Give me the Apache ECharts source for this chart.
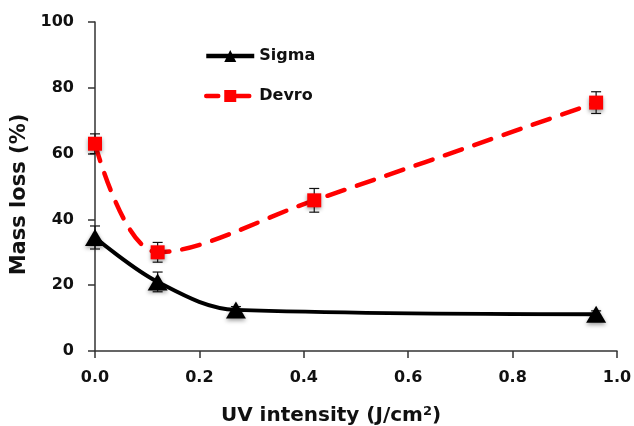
<!DOCTYPE html>
<html><head><meta charset="utf-8">
<script src="https://cdn.jsdelivr.net/npm/echarts@6/dist/echarts.min.js"></script>
<style>html,body{margin:0;padding:0;background:#fff}#c{width:634px;height:426px}</style>
</head><body><div id="c"></div>
<script>
const sigmaX = [0, 0.12, 0.27, 0.96];
const sigmaY = [34.5, 21, 12.5, 11.2];
const sigmaErr = [3.5, 3, 1, 1];
const devroX = [0, 0.12, 0.42, 0.96];
const devroY = [63, 30, 45.8, 75.5];
const devroErr = [3, 3, 3.6, 3.3];
const xTicks = ['0.0','0.2','0.4','0.6','0.8','1.0'];
const yTicks = ['0','20','40','60','80','100'];

const FONT = 'DejaVu Sans';
const chart = echarts.init(document.getElementById('c'));
function pts(xs, ys){ return xs.map((x,i)=>[x, ys[i]]); }
function errData(xs, ys, es){ return xs.map((x,i)=>[x, ys[i]-es[i], ys[i]+es[i]]); }
function errSeries(data){
  return {
    type: 'custom', silent: true, z: 1,
    data: data,
    encode: {x: 0, y: [1,2]},
    renderItem: function(params, api){
      const x = api.value(0);
      const lo = api.coord([x, api.value(1)]);
      const hi = api.coord([x, api.value(2)]);
      const w = 5;
      const st = {stroke: '#111', lineWidth: 1.2, fill: null};
      return {type: 'group', children: [
        {type:'line', shape:{x1:lo[0],y1:lo[1],x2:hi[0],y2:hi[1]}, style: st},
        {type:'line', shape:{x1:lo[0]-w,y1:lo[1],x2:lo[0]+w,y2:lo[1]}, style: st},
        {type:'line', shape:{x1:hi[0]-w,y1:hi[1],x2:hi[0]+w,y2:hi[1]}, style: st}
      ]};
    }
  };
}
chart.setOption({
  animation: false,
  backgroundColor: '#fff',
  grid: {left: 95, right: 17, top: 22, bottom: 75, outerBoundsMode: 'none', containLabel: false},
  legend: {
    data: ['Sigma', 'Devro'], orient: 'vertical', left: 199, top: 43,
    itemWidth: 48, itemHeight: 15, itemGap: 24,
    lineStyle: {width: 4.5, dashOffset: 6},
    textStyle: {fontFamily: FONT, fontWeight: 'bold', fontSize: 16, color: '#111'}
  },
  xAxis: {
    type: 'value', min: 0, max: 1, interval: 0.2,
    name: 'UV intensity (J/cm{sup|2})', nameLocation: 'middle', nameGap: 54,
    nameTextStyle: {fontFamily: FONT, fontWeight: 'bold', fontSize: 20, color: '#111', padding: [0, 50, 0, 0],
      rich: {sup: {fontFamily: FONT, fontWeight: 'bold', fontSize: 13, color: '#111', verticalAlign: 'top', padding: [0,0,9,0]}}},
    axisLine: {lineStyle: {color: '#333', width: 1.5}},
    axisTick: {show: true, length: 7, lineStyle: {color: '#333', width: 1.5}},
    splitLine: {show: false},
    axisLabel: {margin: 19, fontFamily: FONT, fontWeight: 'bold', fontSize: 16, color: '#111',
      formatter: function(v){ return xTicks[Math.round(v/0.2)]; }}
  },
  yAxis: {
    type: 'value', min: 0, max: 100, interval: 20,
    name: 'Mass loss (%)', nameLocation: 'middle', nameGap: 62,
    nameTextStyle: {fontFamily: FONT, fontWeight: 'bold', fontSize: 21, color: '#111', padding: [0, 16, 0, 0]},
    axisLine: {show: true, lineStyle: {color: '#333', width: 1.5}},
    axisTick: {show: true, length: 7, lineStyle: {color: '#333', width: 1.5}},
    splitLine: {show: false},
    axisLabel: {margin: 21, fontFamily: FONT, fontWeight: 'bold', fontSize: 16, color: '#111',
      formatter: function(v){ return yTicks[Math.round(v/20)]; }}
  },
  series: [
    errSeries(errData(sigmaX, sigmaY, sigmaErr)),
    errSeries(errData(devroX, devroY, devroErr)),
    {
      name: 'Sigma', type: 'line', data: pts(sigmaX, sigmaY), smooth: 0.35, z: 3,
      symbol: 'triangle', symbolSize: [20, 17],
      lineStyle: {color: '#000', width: 4},
      itemStyle: {color: '#000', shadowBlur: 4, shadowColor: 'rgba(0,0,0,0.4)', shadowOffsetY: 2}
    },
    {
      name: 'Devro', type: 'line', data: pts(devroX, devroY), smooth: 0.35, z: 2,
      symbol: 'rect', symbolSize: 14,
      lineStyle: {color: '#ff0000', width: 4.5, type: [18, 13], cap: 'round'},
      itemStyle: {color: '#ff0000', shadowBlur: 4, shadowColor: 'rgba(0,0,0,0.4)', shadowOffsetY: 2}
    }
  ]
});
</script></body></html>
